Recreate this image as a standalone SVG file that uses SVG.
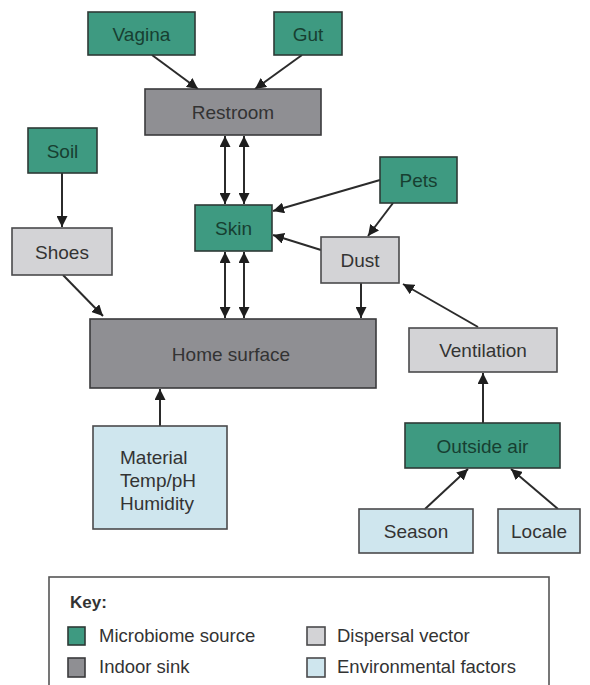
<svg xmlns="http://www.w3.org/2000/svg" width="590" height="685" viewBox="0 0 590 685">
<style>
.src{fill:#3e9a81;stroke:#2e3a36;stroke-width:1.6}
.sink{fill:#8f8f93;stroke:#3a3a3c;stroke-width:1.6}
.vec{fill:#d3d3d6;stroke:#4a4a4c;stroke-width:1.6}
.env{fill:#cfe6ee;stroke:#4a4a4c;stroke-width:1.6}
text{font-family:"Liberation Sans",Arial,sans-serif;font-size:19px;fill:#333}
.c{text-anchor:middle;dominant-baseline:central}
.tg{fill:#173f31}
.k{font-size:18.5px}
.edge{stroke:#2b2b2b;stroke-width:2;fill:none}
</style>
<defs>
<marker id="ah" viewBox="0 0 10 10" refX="10" refY="5" markerWidth="11" markerHeight="11" markerUnits="userSpaceOnUse" orient="auto-start-reverse">
<path d="M0,0 L10,5 L0,10 z" fill="#1e1e1e"/>
</marker>
</defs>
<rect width="590" height="685" fill="#fff"/>
<g id="connectors">
<line class="edge" x1="152" y1="55" x2="198" y2="89" marker-end="url(#ah)"/>
<line class="edge" x1="302" y1="55" x2="255" y2="89" marker-end="url(#ah)"/>
<line class="edge" x1="225" y1="136" x2="225" y2="204" marker-start="url(#ah)" marker-end="url(#ah)"/>
<line class="edge" x1="244" y1="136" x2="244" y2="204" marker-start="url(#ah)" marker-end="url(#ah)"/>
<line class="edge" x1="225" y1="252" x2="225" y2="318" marker-start="url(#ah)" marker-end="url(#ah)"/>
<line class="edge" x1="244" y1="252" x2="244" y2="318" marker-start="url(#ah)" marker-end="url(#ah)"/>
<line class="edge" x1="62" y1="173" x2="62" y2="227" marker-end="url(#ah)"/>
<line class="edge" x1="63" y1="275" x2="103" y2="316" marker-end="url(#ah)"/>
<line class="edge" x1="380" y1="180" x2="273" y2="211" marker-end="url(#ah)"/>
<line class="edge" x1="321" y1="250" x2="273" y2="235" marker-end="url(#ah)"/>
<line class="edge" x1="393" y1="203" x2="368" y2="236" marker-end="url(#ah)"/>
<line class="edge" x1="361" y1="283" x2="361" y2="318" marker-end="url(#ah)"/>
<line class="edge" x1="478" y1="327" x2="403" y2="284" marker-end="url(#ah)"/>
<line class="edge" x1="483" y1="423" x2="483" y2="373" marker-end="url(#ah)"/>
<line class="edge" x1="425" y1="509" x2="468" y2="469" marker-end="url(#ah)"/>
<line class="edge" x1="558" y1="509" x2="511" y2="469" marker-end="url(#ah)"/>
<line class="edge" x1="160" y1="426" x2="160" y2="389" marker-end="url(#ah)"/>
</g>
<g id="vagina"><rect class="src" x="88" y="12" width="107" height="43"/><text class="c tg" x="141.5" y="34">Vagina</text></g>
<g id="gut"><rect class="src" x="274" y="12" width="68" height="43"/><text class="c tg" x="308" y="34">Gut</text></g>
<g id="restroom"><rect class="sink" x="145" y="89" width="176" height="46"/><text class="c" x="233" y="112">Restroom</text></g>
<g id="soil"><rect class="src" x="28" y="128" width="69" height="45"/><text class="c tg" x="62.5" y="151">Soil</text></g>
<g id="shoes"><rect class="vec" x="12" y="228" width="100" height="47"/><text class="c" x="62" y="252">Shoes</text></g>
<g id="skin"><rect class="src" x="195" y="205" width="77" height="46"/><text class="c tg" x="233.5" y="228">Skin</text></g>
<g id="pets"><rect class="src" x="380" y="157" width="77" height="46"/><text class="c tg" x="418.5" y="180">Pets</text></g>
<g id="dust"><rect class="vec" x="321" y="237" width="78" height="46"/><text class="c" x="360" y="260">Dust</text></g>
<g id="home-surface"><rect class="sink" x="90" y="319" width="286" height="69"/><text class="c" x="231" y="354">Home surface</text></g>
<g id="ventilation"><rect class="vec" x="409" y="328" width="148" height="44"/><text class="c" x="483" y="350">Ventilation</text></g>
<g id="outside-air"><rect class="src" x="405" y="423" width="155" height="45"/><text class="c tg" x="482.5" y="446">Outside air</text></g>
<g id="season"><rect class="env" x="359" y="509" width="114" height="44"/><text class="c" x="416" y="531">Season</text></g>
<g id="locale"><rect class="env" x="498" y="509" width="82" height="44"/><text class="c" x="539" y="531">Locale</text></g>
<g id="factors"><rect class="env" x="93" y="426" width="134" height="103"/>
<text x="120" y="464">Material</text><text x="120" y="487">Temp/pH</text><text x="120" y="510">Humidity</text></g>
<g id="key">
<rect x="49" y="577" width="500" height="120" fill="#fff" stroke="#555" stroke-width="1.6"/>
<text x="70" y="608" style="font-weight:bold;font-size:17px">Key:</text>
<rect class="src" x="68" y="627" width="17" height="18"/>
<text class="k" x="99" y="642">Microbiome source</text>
<rect class="sink" x="68" y="658" width="17" height="19"/>
<text class="k" x="99" y="673">Indoor sink</text>
<rect class="vec" x="307" y="627" width="18" height="18"/>
<text class="k" x="337" y="642">Dispersal vector</text>
<rect class="env" x="307" y="658" width="18" height="19"/>
<text class="k" x="337" y="673">Environmental factors</text>
</g>
</svg>
